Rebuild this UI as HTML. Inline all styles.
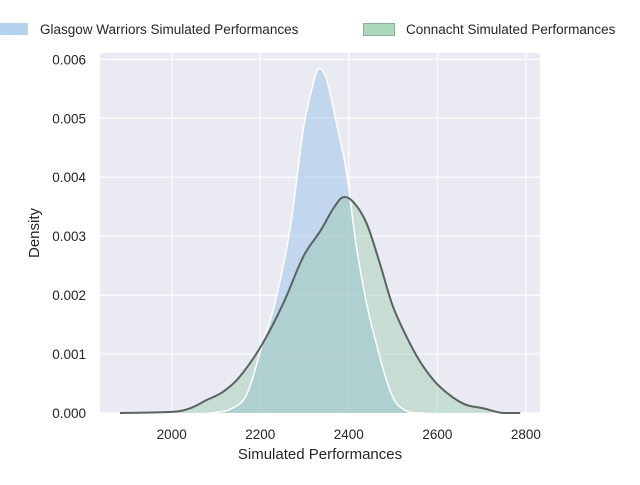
<!DOCTYPE html>
<html><head><meta charset="utf-8"><style>
body{margin:0;background:#fff;}
svg text{font-family:"Liberation Sans",Arial,sans-serif;fill:#262626;}
</style></head><body>
<svg width="640" height="480" viewBox="0 0 640 480">
<rect x="100" y="53" width="440" height="360" fill="#eaeaf2"/>
<g id="grid"></g>
<g id="marks"></g>
<g id="ticks"></g>
<text x="320" y="459" text-anchor="middle" font-size="15">Simulated Performances</text>
<text transform="translate(39,233) rotate(-90)" text-anchor="middle" font-size="15">Density</text>
<g>
<g>
<rect x="0" y="23" width="28" height="12" fill="#b5d2ef"/>
<text x="40" y="34" font-size="13.5">Glasgow Warriors Simulated Performances</text>
</g>
<g>
<rect x="363.5" y="23.5" width="31" height="12" fill="#acd8bb" stroke="#8fae9a"/>
<text x="406" y="34" font-size="13.5">Connacht Simulated Performances</text>
</g>
</g>
</svg>
<script>
const xTicks=[2000,2200,2400,2600,2800];
const yTicks=[0,0.001,0.002,0.003,0.004,0.005,0.006];
const yTickLabels=["0.000","0.001","0.002","0.003","0.004","0.005","0.006"];
const glasgowX=[2086,2131,2169,2203,2233,2267,2297,2320,2333,2350,2372,2395,2417,2440,2462,2485,2507,2538,2568];
const glasgowD=[0,0.00006,0.00031,0.00112,0.00186,0.00311,0.0048,0.0056,0.00584,0.00565,0.00492,0.00407,0.00283,0.00186,0.00118,0.00056,0.00017,0.00001,0];
const connachtX=[1883,2000,2041,2079,2116,2154,2203,2252,2297,2335,2365,2387,2410,2440,2470,2500,2538,2568,2605,2658,2703,2748,2787];
const connachtD=[0,0.00002,0.00008,0.00022,0.00036,0.00062,0.00115,0.00186,0.00265,0.00308,0.00347,0.00366,0.00358,0.00322,0.00254,0.0018,0.00118,0.00079,0.00045,0.00016,0.00008,0,0];
const NS='http://www.w3.org/2000/svg';
function xs(v){return 171.7+(v-2000)*0.4428;}
function ys(d){return 413-d*58950;}
function mk(tag,attrs,parent){const e=document.createElementNS(NS,tag);for(const k in attrs)e.setAttribute(k,attrs[k]);parent.appendChild(e);return e;}
const grid=document.getElementById('grid'),ticks=document.getElementById('ticks'),marks=document.getElementById('marks');
xTicks.forEach(v=>{
 const l=mk('line',{x1:xs(v),x2:xs(v),y1:53,y2:413,stroke:'#fff','stroke-width':1.2},grid);
 
 
 const t=mk('text',{x:xs(v),y:439,'text-anchor':'middle','font-size':13.5},ticks);
 t.textContent=v;
 
 
});
yTicks.forEach((v,i)=>{
 const l=mk('line',{x1:100,x2:540,y1:ys(v),y2:ys(v),stroke:'#fff','stroke-width':1.2},grid);
 
 
 const t=mk('text',{x:86,y:ys(v)+5,'text-anchor':'end','font-size':13.5},ticks);
 t.textContent=yTickLabels[i];
 
 
});
function smooth(X,D){
 const p=X.map((x,i)=>[xs(x),ys(D[i])]);
 let s='M'+p[0][0]+','+p[0][1];
 for(let i=0;i<p.length-1;i++){
  const p0=p[i-1]||p[i],p1=p[i],p2=p[i+1],p3=p[i+2]||p[i+1];
  const c1=[p1[0]+(p2[0]-p0[0])/6,p1[1]+(p2[1]-p0[1])/6];
  const c2=[p2[0]-(p3[0]-p1[0])/6,p2[1]-(p3[1]-p1[1])/6];
  s+=' C'+c1[0]+','+Math.min(413,c1[1])+' '+c2[0]+','+Math.min(413,c2[1])+' '+p2[0]+','+p2[1];
 }
 return s;
}
function area(X,D,fill,stroke,sw,name){
 const line=smooth(X,D);
 const a=mk('path',{d:line+' L'+xs(X[X.length-1])+',413 L'+xs(X[0])+',413 Z',fill:fill},marks);
 
 
 return line;
}
const gl=area(glasgowX,glasgowD,'rgba(161,196,234,0.55)','#fff',1.5,'glasgow');
const cl=area(connachtX,connachtD,'rgba(150,200,170,0.42)','#5a6262',2,'connacht');
const l1=mk('path',{d:gl,fill:'none',stroke:'#fff','stroke-width':1.5},marks);


const l2=mk('path',{d:cl,fill:'none',stroke:'#5a6262','stroke-width':2},marks);


</script>
</body></html>
